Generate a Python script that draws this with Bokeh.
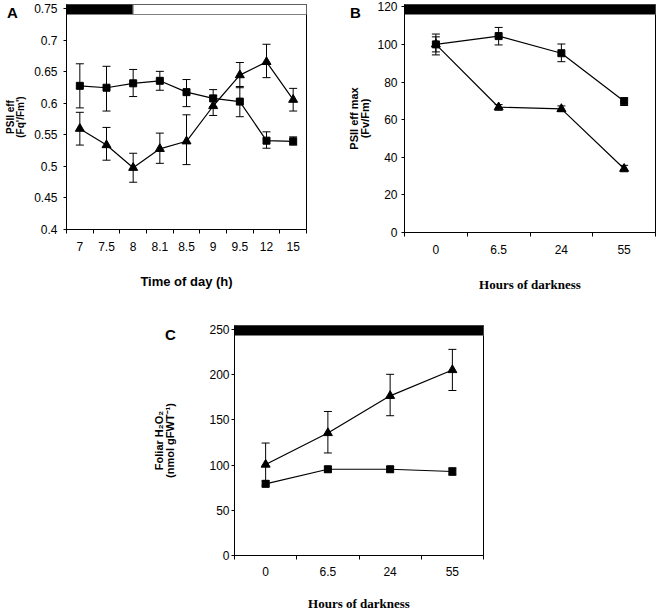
from bokeh.plotting import figure
from bokeh.models import (Range1d, FixedTicker, Whisker, TeeHead, ColumnDataSource,
                          Spacer, Div)
from bokeh.layouts import column, row
from bokeh.embed import file_html
from bokeh.resources import INLINE

# ---------------- data ----------------
# Panel A: PSII efficiency over the day
A_times = ["7", "7.5", "8", "8.1", "8.5", "9", "9.5", "12", "15"]
A_dark_until = "8"
A_sq = [0.628, 0.625, 0.632, 0.636, 0.618, 0.608, 0.603, 0.541, 0.540]
A_sq_hi = [0.663, 0.659, 0.654, 0.651, 0.638, 0.622, 0.627, 0.555, 0.547]
A_sq_lo = [0.593, 0.588, 0.611, 0.621, 0.595, 0.595, 0.579, 0.529, 0.534]
A_tri = [0.560, 0.534, 0.498, 0.528, 0.540, 0.596, 0.645, 0.666, 0.606]
A_tri_hi = [0.586, 0.562, 0.521, 0.553, 0.582, 0.613, 0.665, 0.694, 0.624]
A_tri_lo = [0.534, 0.510, 0.475, 0.505, 0.503, 0.581, 0.625, 0.641, 0.588]
A_yticks = [0.4, 0.45, 0.5, 0.55, 0.6, 0.65, 0.7, 0.75]
A_ytick_labels = ["0.4", "0.45", "0.5", "0.55", "0.6", "0.65", "0.7", "0.75"]

# Panel B: PSII max efficiency vs hours of darkness
dark_hours = ["0", "6.5", "24", "55"]
B_sq = [100, 104.4, 95.3, 69.8]
B_sq_hi = [105.5, 109.0, 100.2, 71.6]
B_sq_lo = [94.4, 99.7, 90.8, 67.5]
B_tri = [100, 66.6, 65.7, 33.9]
B_tri_hi = [104.0, 68.0, 67.3, 35.7]
B_tri_lo = [96.0, 65.0, 64.2, 32.3]
B_yticks = [0, 20, 40, 60, 80, 100, 120]

# Panel C: foliar H2O2 vs hours of darkness
C_sq = [79.3, 95.4, 95.4, 92.9]
C_sq_hi = [82.5, 98.5, 98.5, 97.0]
C_sq_lo = [76.0, 92.3, 92.3, 88.8]
C_tri = [100.6, 135.5, 176.6, 205.2]
C_tri_hi = [124.4, 159.3, 200.4, 228.0]
C_tri_lo = [78.0, 113.4, 154.6, 182.5]
C_yticks = [0, 50, 100, 150, 200, 250]

TICK_FONT = "Liberation Sans"


def make_panel(cats, sq, sq_hi, sq_lo, tri, tri_hi, tri_lo, yticks, ylabels,
               y_end, frame_w, frame_h, left, top, right, bottom,
               xlabel, xlabel_font, xlabel_size, xlabel_standoff, ylabel,
               ylabel_standoff, ylabel_size, tick_standoff_y, tick_standoff_x,
               dark_until=None):
    n = len(cats)
    xs = list(range(n))
    p = figure(frame_width=frame_w, frame_height=frame_h,
               min_border_left=left, min_border_top=top,
               min_border_right=right, min_border_bottom=bottom,
               x_range=Range1d(-0.5, n - 0.5), y_range=Range1d(yticks[0], y_end),
               output_backend="svg", toolbar_location=None)
    p.grid.visible = False
    p.outline_line_color = "black"
    p.outline_line_width = 1
    p.background_fill_color = "white"
    p.border_fill_color = "white"

    # x axis: labels at category centres, tick marks at category boundaries
    p.xaxis.ticker = FixedTicker(ticks=xs, minor_ticks=[i - 0.5 for i in range(n + 1)])
    p.xaxis.major_label_overrides = {i: c for i, c in enumerate(cats)}
    p.xaxis.major_tick_out = 0
    p.xaxis.major_tick_in = 0
    p.xaxis.minor_tick_out = 4
    p.xaxis.minor_tick_in = 0
    p.xaxis.minor_tick_line_color = "black"
    p.xaxis.major_label_text_font = TICK_FONT
    p.xaxis.major_label_text_font_size = "12px"
    p.xaxis.major_label_text_color = "black"
    p.xaxis.major_label_standoff = tick_standoff_x
    p.xaxis.axis_label = xlabel
    p.xaxis.axis_label_text_font = xlabel_font
    p.xaxis.axis_label_text_font_style = "bold"
    p.xaxis.axis_label_text_font_size = xlabel_size
    p.xaxis.axis_label_text_color = "black"
    p.xaxis.axis_label_standoff = xlabel_standoff
    p.xaxis.axis_line_color = "black"

    p.yaxis.ticker = FixedTicker(ticks=yticks, minor_ticks=[])
    p.yaxis.major_label_overrides = {t: l for t, l in zip(yticks, ylabels)}
    p.yaxis.major_tick_out = 3
    p.yaxis.major_tick_in = 0
    p.yaxis.major_label_text_font = TICK_FONT
    p.yaxis.major_label_text_font_size = "12px"
    p.yaxis.major_label_text_color = "black"
    p.yaxis.major_label_standoff = tick_standoff_y
    p.yaxis.axis_label = ylabel
    p.yaxis.axis_label_text_font = "Liberation Sans"
    p.yaxis.axis_label_text_font_style = "bold"
    p.yaxis.axis_label_text_font_size = ylabel_size
    p.yaxis.axis_label_text_color = "black"
    p.yaxis.axis_label_text_line_height = 0.95
    p.yaxis.axis_label_standoff = ylabel_standoff
    p.yaxis.axis_line_color = "black"

    # dark/light period bar along the top of the plot area
    bar_h = 10 * (y_end - yticks[0]) / frame_h
    split = cats.index(dark_until) if dark_until is not None else n - 0.5
    p.quad(left=[-0.5], right=[split], top=[y_end], bottom=[y_end - bar_h],
           fill_color="black", line_color="#808080", line_width=1)
    if split < n - 0.5:
        p.quad(left=[split], right=[n - 0.5], top=[y_end], bottom=[y_end - bar_h],
               fill_color="white", line_color="#808080", line_width=1)

    src_sq = ColumnDataSource(dict(x=xs, y=sq, hi=sq_hi, lo=sq_lo))
    src_tri = ColumnDataSource(dict(x=xs, y=tri, hi=tri_hi, lo=tri_lo))
    for src in (src_tri, src_sq):
        p.add_layout(Whisker(base="x", upper="hi", lower="lo", source=src,
                             line_color="black", line_width=1,
                             upper_head=TeeHead(size=8, line_color="black", line_width=1),
                             lower_head=TeeHead(size=8, line_color="black", line_width=1)))
    p.line("x", "y", source=src_tri, line_color="black", line_width=1.2)
    p.line("x", "y", source=src_sq, line_color="black", line_width=1.2)
    p.scatter("x", "y", source=src_tri, marker="triangle", size=9,
              fill_color="black", line_color="black")
    p.scatter("x", "y", source=src_sq, marker="square", size=7,
              fill_color="black", line_color="black")
    return p


pA = make_panel(A_times, A_sq, A_sq_hi, A_sq_lo, A_tri, A_tri_hi, A_tri_lo,
                A_yticks, A_ytick_labels, 0.7571,
                240, 225, 66, 4, 24, 71,
                "Time of day (h)", "Liberation Sans", "13px", 20,
                "PSII eff\n(Fq'/Fm')", 5, "10px", 6, 8, dark_until=A_dark_until)
pB = make_panel(dark_hours, B_sq, B_sq_hi, B_sq_lo, B_tri, B_tri_hi, B_tri_lo,
                B_yticks, [str(t) for t in B_yticks], 121.2,
                251, 228, 74, 4, 1, 68,
                "Hours of darkness", "Liberation Serif", "13px", 20,
                "PSII eff max\n(Fv/Fm)", 3, "11px", 4, 8)
pC = make_panel(dark_hours, C_sq, C_sq_hi, C_sq_lo, C_tri, C_tri_hi, C_tri_lo,
                C_yticks, [str(t) for t in C_yticks], 254.4,
                249, 230, 81, 25, 20, 55,
                "Hours of darkness", "Liberation Serif", "13px", 17,
                "Foliar H\u2082O\u2082\n(nmol gFWT\u207b\u00b9)", 30, "11px", 2, 7)


# panel letters as overlaid text blocks
def letter(text, left, top):
    return Div(text=text, width=16, height=18,
               styles={"position": "absolute", "left": f"{left}px", "top": f"{top}px",
                       "font-family": "Liberation Sans", "font-weight": "bold",
                       "font-size": "15px", "line-height": "16px", "color": "black",
                       "z-index": "10"})


layout = column(row(pA, pB), row(Spacer(width=150, height=310), pC),
                letter("A", 2, 0), letter("B", 345, 0), letter("C", 160, 322),
                styles={"position": "absolute", "left": "0px", "top": "0px"})

open("out.html", "w").write(file_html(layout, INLINE))
